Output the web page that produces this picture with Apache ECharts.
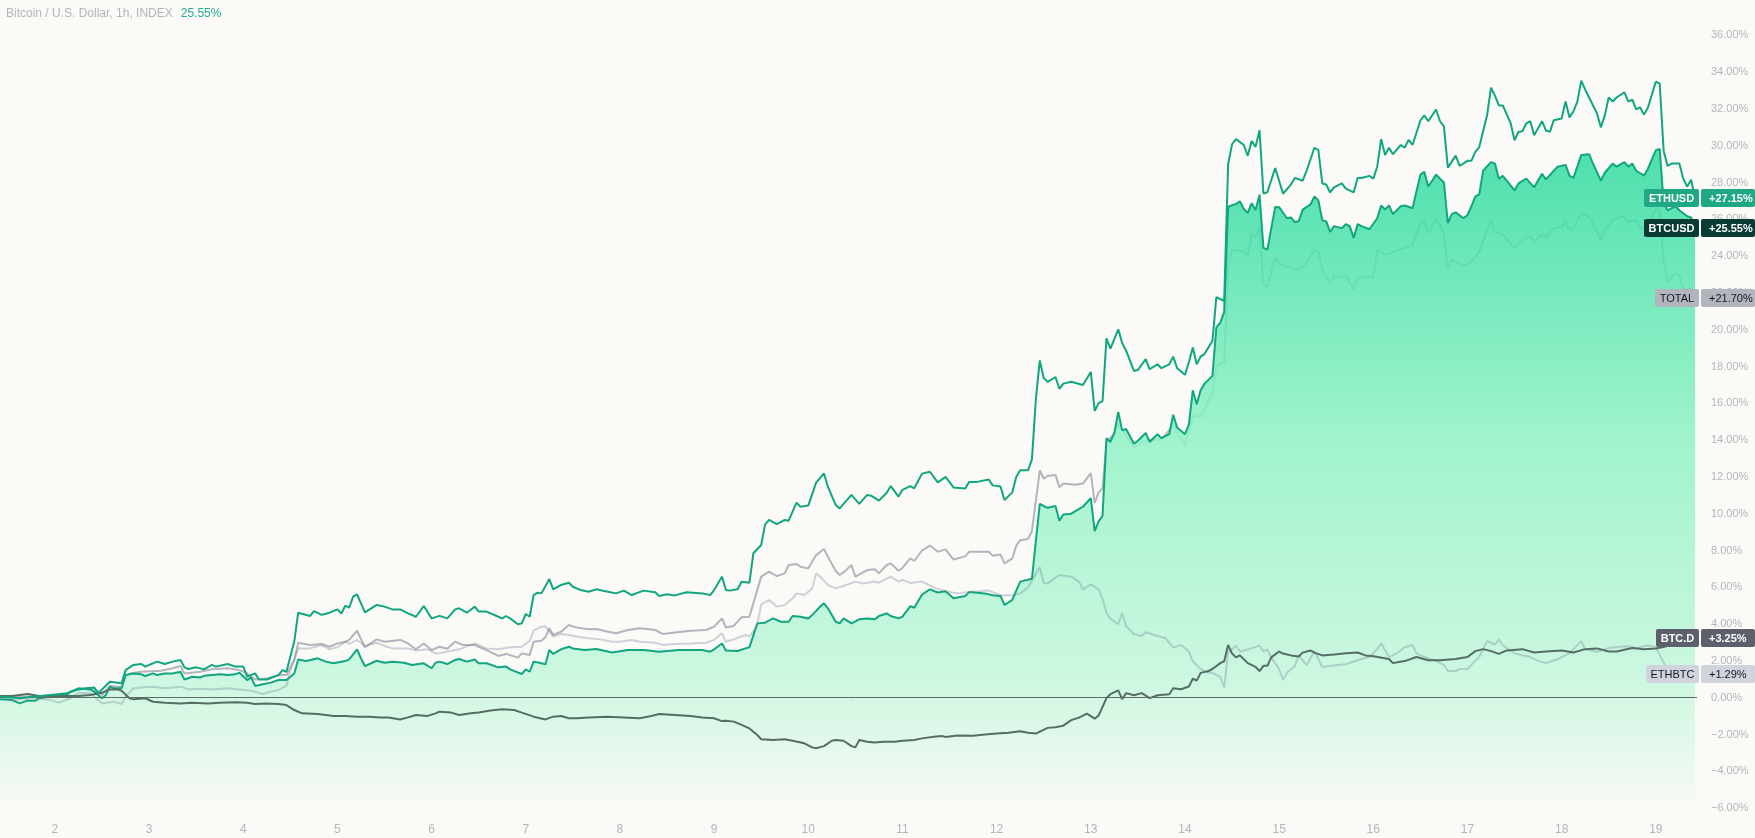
<!DOCTYPE html>
<html>
<head>
<meta charset="utf-8">
<script src="https://cdn.jsdelivr.net/npm/echarts@6/dist/echarts.min.js"></script>
<style>
html,body{margin:0;padding:0;background:#fbfaf7;}
#chart{width:1755px;height:838px;}
</style>
</head>
<body>
<div id="chart"></div>
<script>
// ---- data: [hour since start (day 1, 10:00), % change] ----
const START_DAY = 1, START_HOUR = 10, LAST_HOUR = 432;
const dayTicks = [2,3,4,5,6,7,8,9,10,11,12,13,14,15,16,17,18,19];
const pctTicks = [-6,-4,-2,0,2,4,6,8,10,12,14,16,18,20,22,24,26,28,30,32,34,36];
const titleText = 'Bitcoin / U.S. Dollar, 1h, INDEX';

const ethusd = [[0,0.06],[5,-0.03],[9,0.06],[13,0.15],[17,0.24],[20,0.45],[22,0.51],[24,0.56],[25,0.24],[28,0.87],[31,0.78],[32,1.50],[34,1.78],[36,1.83],[37,1.69],[40,1.96],[42,1.83],[44,1.96],[46,2.05],[47,1.65],[48,1.56],[50,1.65],[52,1.54],[54,1.78],[55,1.69],[58,1.83],[60,1.69],[62,1.69],[63,1.14],[65,1.32],[66,0.99],[68,0.99],[71,1.23],[72,1.50],[73,1.41],[75,3.05],[76,4.62],[79,4.44],[80,4.71],[82,4.50],[84,4.62],[86,4.80],[87,4.58],[88,5.00],[89,4.89],[90,5.49],[91,5.62],[92,5.13],[93,4.64],[96,5.04],[98,4.95],[100,4.80],[102,4.80],[104,4.58],[106,4.40],[108,4.98],[110,4.31],[112,4.45],[114,4.31],[116,4.80],[117,4.86],[119,4.62],[121,4.95],[122,4.68],[124,4.68],[127,4.40],[128,4.31],[129,4.44],[130,4.31],[132,3.99],[133,4.04],[134,4.55],[135,4.40],[136,5.58],[137,5.71],[138,5.67],[140,6.45],[141,5.89],[143,6.13],[145,6.25],[146,6.03],[148,5.85],[150,5.76],[152,5.89],[154,5.80],[157,5.67],[159,5.82],[161,5.58],[164,5.82],[167,5.73],[168,5.53],[170,5.62],[172,5.56],[175,5.73],[179,5.67],[181,5.58],[182,5.85],[184,6.58],[185,5.85],[186,5.82],[188,5.89],[189,6.30],[191,6.25],[192,7.85],[194,8.30],[195,9.42],[196,9.66],[198,9.44],[200,9.66],[201,9.62],[203,10.60],[204,10.38],[206,10.44],[208,11.69],[210,12.19],[211,11.47],[213,10.47],[214,10.29],[215,10.53],[217,11.02],[219,10.53],[221,11.02],[222,10.98],[224,10.71],[226,11.14],[227,11.50],[229,10.93],[230,11.30],[232,11.50],[233,11.38],[235,12.18],[237,12.28],[239,11.70],[241,12.00],[243,11.43],[246,11.37],[247,11.73],[249,11.73],[252,11.86],[253,11.54],[255,11.48],[256,10.74],[258,11.16],[259,12.00],[260,12.36],[262,12.36],[263,12.95],[264,16.22],[265,18.33],[266,17.38],[267,17.17],[269,17.43],[270,16.79],[271,17.07],[273,17.17],[276,17.00],[278,17.70],[279,15.59],[280,16.01],[281,16.12],[282,19.53],[283,18.97],[284,19.49],[285,20.02],[286,19.28],[287,18.86],[289,17.76],[290,17.81],[292,18.40],[293,17.85],[295,18.12],[296,17.91],[298,18.12],[299,18.54],[300,17.91],[302,17.55],[303,18.23],[304,19.03],[305,18.12],[306,18.54],[307,18.69],[309,19.39],[310,21.77],[312,21.56],[313,28.99],[314,30.08],[315,30.36],[317,30.04],[318,29.45],[319,30.25],[320,29.94],[321,30.84],[322,27.40],[323,27.47],[325,28.78],[326,28.10],[327,27.39],[329,27.89],[330,28.25],[332,28.10],[333,28.64],[335,29.89],[336,29.76],[337,27.95],[338,27.89],[339,27.46],[340,27.74],[342,27.95],[343,27.67],[345,27.46],[346,28.25],[347,28.25],[349,28.36],[350,28.21],[351,28.86],[352,30.36],[353,29.50],[354,29.89],[355,29.54],[357,30.04],[358,29.89],[359,30.32],[360,30.04],[362,31.37],[363,31.65],[364,31.33],[366,31.97],[367,31.33],[368,31.05],[369,28.81],[371,29.46],[372,28.90],[374,29.18],[375,29.18],[376,29.67],[377,29.93],[379,31.65],[380,33.15],[381,32.72],[382,32.19],[383,32.19],[385,31.22],[386,30.30],[387,30.75],[388,30.79],[389,31.22],[390,31.33],[391,30.57],[393,31.33],[394,30.83],[395,30.75],[396,31.39],[398,31.48],[399,32.40],[400,31.54],[401,31.86],[402,32.40],[403,33.54],[404,33.05],[405,32.62],[407,31.76],[408,31.00],[409,31.65],[410,32.62],[411,32.40],[412,32.62],[414,32.90],[415,32.40],[416,32.51],[417,31.97],[418,32.08],[419,31.69],[420,32.08],[422,33.48],[423,33.37],[424,29.72],[425,28.90],[426,29.03],[428,29.03],[429,28.21],[430,27.78],[431,28.15],[432,27.15]];

const btcusd = [[0,-0.09],[3,-0.12],[5,-0.31],[7,-0.16],[9,-0.16],[10,-0.03],[13,0.06],[15,0.15],[17,0.15],[18,0.33],[20,0.51],[23,0.45],[24,0.33],[26,-0.03],[27,0.15],[28,0.60],[29,0.51],[31,0.51],[32,1.23],[34,1.32],[36,1.27],[37,1.18],[39,1.32],[40,1.23],[42,1.32],[44,1.32],[46,1.41],[47,0.99],[49,1.14],[51,1.10],[52,1.19],[54,1.23],[56,1.27],[58,1.23],[60,1.27],[61,1.36],[63,0.96],[64,1.10],[65,0.64],[67,0.73],[69,0.82],[71,0.96],[73,0.96],[75,1.32],[76,2.08],[78,1.99],[81,2.14],[83,1.96],[85,1.87],[88,1.99],[89,2.08],[91,2.63],[92,2.14],[93,1.72],[96,2.01],[98,1.90],[100,1.96],[103,1.90],[105,1.78],[108,1.87],[110,1.60],[111,1.90],[112,1.96],[114,1.83],[116,2.05],[117,2.10],[119,1.96],[121,2.08],[122,1.87],[124,1.87],[127,1.65],[129,1.69],[130,1.54],[133,1.29],[134,1.54],[135,1.41],[136,1.96],[138,1.87],[139,1.81],[140,2.59],[141,2.38],[143,2.63],[145,2.77],[146,2.68],[149,2.59],[152,2.65],[156,2.46],[160,2.59],[164,2.59],[168,2.50],[173,2.59],[179,2.59],[181,2.50],[182,2.63],[184,2.95],[185,2.56],[188,2.54],[190,2.68],[191,2.74],[193,4.04],[195,4.08],[197,4.31],[199,4.13],[201,4.13],[202,4.44],[204,4.40],[206,4.31],[207,4.49],[209,4.95],[210,5.13],[211,4.86],[213,4.13],[214,4.04],[215,4.31],[217,4.04],[219,4.26],[221,4.31],[223,4.26],[224,4.44],[226,4.58],[227,4.44],[229,4.31],[230,4.41],[232,4.98],[233,4.89],[235,5.61],[237,5.89],[239,5.72],[241,5.78],[243,5.40],[246,5.53],[247,5.74],[251,5.67],[253,5.57],[255,5.53],[256,5.04],[258,5.32],[260,6.31],[263,6.46],[264,8.52],[265,10.53],[266,10.42],[267,10.32],[269,10.42],[270,9.62],[271,9.96],[273,10.00],[276,10.38],[278,10.84],[279,9.05],[280,9.58],[281,9.89],[282,14.11],[283,13.90],[284,14.39],[285,15.53],[286,14.53],[287,14.60],[289,13.80],[290,13.97],[292,14.39],[293,13.90],[295,14.32],[296,14.11],[298,14.32],[299,15.38],[300,14.68],[302,14.32],[303,14.85],[304,16.71],[305,15.95],[306,16.71],[307,17.07],[309,17.49],[310,20.13],[311,20.38],[312,20.97],[313,26.67],[314,26.77],[315,26.83],[316,26.98],[317,26.56],[318,26.35],[319,26.88],[320,26.50],[321,27.34],[322,24.45],[323,24.35],[325,26.67],[326,26.66],[328,26.06],[329,26.10],[330,25.85],[331,25.89],[332,26.53],[334,26.81],[335,27.24],[336,27.03],[337,25.95],[338,25.89],[339,25.31],[340,25.63],[342,25.52],[343,25.74],[344,25.63],[345,24.99],[346,25.74],[347,25.63],[349,25.46],[351,26.06],[352,26.75],[353,26.53],[354,26.75],[355,26.28],[357,26.71],[358,26.75],[360,26.60],[362,28.43],[363,28.58],[364,27.78],[365,28.10],[366,28.43],[367,28.21],[368,28.00],[369,25.80],[370,26.28],[371,26.38],[373,26.06],[374,26.23],[375,26.71],[376,27.24],[377,27.35],[378,28.64],[380,29.11],[381,29.03],[382,28.21],[383,28.36],[384,28.10],[386,27.57],[387,27.95],[389,28.21],[391,27.74],[393,28.47],[394,28.17],[396,28.64],[397,28.86],[399,28.96],[400,28.38],[401,28.25],[402,28.86],[403,29.50],[405,29.54],[406,29.03],[408,28.10],[409,28.53],[411,29.03],[412,28.86],[414,29.11],[415,28.86],[416,29.03],[417,28.64],[419,28.38],[420,28.75],[422,29.76],[423,29.82],[424,26.88],[425,26.49],[427,26.71],[428,26.49],[430,26.17],[431,26.10],[432,25.55]];

const total = [[0,0.02],[9,0.06],[17,0.20],[20,0.45],[24,0.51],[26,0.15],[28,0.64],[31,0.60],[33,1.32],[36,1.41],[41,1.47],[44,1.60],[46,1.72],[47,1.32],[51,1.41],[54,1.54],[58,1.60],[61,1.50],[63,1.32],[65,0.99],[68,1.05],[71,1.23],[73,1.23],[75,2.05],[76,2.99],[79,2.86],[82,2.92],[84,2.77],[86,2.95],[88,3.04],[89,3.14],[91,3.64],[93,2.74],[96,3.17],[98,3.04],[102,3.14],[104,2.95],[106,2.63],[108,2.95],[110,2.59],[112,2.77],[114,2.66],[116,3.05],[118,2.86],[121,2.86],[124,2.59],[127,2.27],[129,2.38],[132,2.18],[133,2.41],[135,2.32],[136,3.04],[138,3.10],[139,3.28],[140,3.77],[141,3.41],[143,3.59],[145,3.95],[147,3.81],[150,3.72],[152,3.73],[155,3.59],[157,3.50],[160,3.68],[163,3.77],[167,3.68],[169,3.46],[172,3.55],[176,3.64],[180,3.68],[182,3.86],[184,4.31],[185,3.82],[187,3.90],[189,4.37],[191,4.40],[193,5.85],[194,6.58],[196,6.85],[198,6.61],[200,6.76],[201,7.21],[203,7.27],[204,7.12],[206,7.03],[208,7.75],[210,8.08],[211,7.66],[213,6.89],[214,6.67],[215,6.81],[217,7.21],[218,6.58],[221,6.94],[223,6.98],[224,6.76],[226,7.21],[227,7.30],[229,6.90],[230,7.05],[232,7.57],[233,7.43],[235,8.00],[237,8.27],[239,7.93],[241,8.06],[243,7.51],[246,7.68],[247,7.93],[249,7.93],[252,7.93],[253,7.72],[255,7.78],[256,7.30],[258,7.57],[259,8.27],[260,8.56],[262,8.63],[263,9.05],[265,12.36],[266,11.90],[267,12.05],[269,12.11],[270,11.43],[271,11.64],[274,11.58],[276,11.64],[278,12.21],[279,10.59],[280,11.16],[281,11.37],[282,13.90],[284,14.35],[285,14.90],[289,13.60],[292,14.02],[296,14.02],[299,14.80],[302,13.70],[304,15.30],[306,15.28],[309,16.55],[310,18.03],[312,18.24],[313,23.50],[314,24.35],[317,24.24],[318,24.03],[319,25.19],[320,25.02],[321,25.61],[322,22.45],[323,22.34],[325,23.92],[326,23.59],[328,23.44],[330,23.27],[332,23.38],[333,23.70],[335,24.30],[336,24.24],[337,23.27],[339,22.52],[340,22.95],[342,22.84],[343,22.95],[345,22.19],[346,22.79],[349,22.88],[350,22.88],[351,24.34],[353,24.08],[354,24.13],[357,24.39],[359,24.51],[360,24.60],[362,25.85],[363,25.85],[364,25.25],[366,26.02],[367,25.67],[368,25.20],[369,23.37],[370,23.81],[373,23.48],[375,23.70],[377,24.24],[379,25.42],[380,25.95],[381,25.31],[383,25.20],[386,24.45],[388,24.88],[390,25.09],[391,24.73],[393,25.20],[394,24.99],[396,25.52],[398,25.59],[399,25.85],[400,25.42],[401,25.52],[403,26.32],[405,26.17],[408,24.88],[409,25.42],[411,25.95],[412,26.06],[414,26.17],[415,25.85],[417,25.95],[418,25.52],[419,25.42],[420,25.74],[422,26.53],[423,26.49],[424,23.70],[425,22.62],[427,23.05],[428,22.95],[429,22.19],[431,22.24],[432,21.70]];

const ethbtc = [[0,0.02],[4,-0.13],[9,-0.03],[13,-0.13],[15,-0.27],[18,-0.03],[20,0.27],[23,0.24],[25,-0.13],[26,-0.31],[29,-0.22],[31,-0.34],[32,0.06],[34,0.51],[36,0.56],[39,0.60],[42,0.51],[46,0.60],[48,0.45],[51,0.49],[54,0.45],[58,0.51],[61,0.45],[64,0.38],[67,0.20],[69,0.33],[71,0.42],[73,0.64],[74,1.50],[76,2.68],[79,2.68],[82,2.86],[84,2.63],[86,2.74],[88,3.04],[89,2.92],[91,3.14],[93,2.81],[96,2.99],[98,2.81],[100,2.68],[104,2.68],[106,2.56],[109,2.63],[111,2.41],[112,2.41],[115,2.55],[117,2.63],[121,2.95],[124,2.68],[127,2.63],[130,2.74],[133,2.77],[135,3.08],[136,3.64],[138,3.86],[139,3.88],[141,3.32],[143,3.46],[145,3.41],[148,3.28],[150,3.23],[153,3.17],[156,3.04],[158,3.04],[161,3.14],[163,3.04],[167,2.99],[169,2.86],[172,2.92],[176,2.95],[180,2.99],[182,3.14],[184,3.50],[185,3.04],[187,3.17],[190,3.41],[191,3.32],[193,3.95],[194,5.07],[196,5.31],[198,4.95],[200,5.04],[202,5.40],[203,5.67],[205,5.58],[207,5.94],[208,6.76],[209,6.58],[211,6.13],[213,5.94],[215,6.07],[218,6.31],[220,6.21],[223,6.31],[224,6.25],[227,6.58],[229,6.31],[230,6.41],[232,6.24],[235,6.31],[238,5.99],[241,5.78],[244,5.67],[247,5.74],[252,5.82],[255,5.57],[258,5.57],[260,5.67],[262,5.99],[264,6.73],[265,7.09],[266,6.24],[267,6.20],[269,6.52],[270,6.67],[273,6.58],[275,6.31],[276,5.88],[278,6.16],[280,5.88],[281,5.36],[282,4.62],[283,4.30],[285,3.99],[286,4.62],[287,3.88],[289,3.46],[291,3.35],[292,3.56],[295,3.35],[297,3.25],[299,2.72],[301,2.87],[303,2.51],[304,1.98],[306,1.56],[308,1.35],[309,1.35],[311,1.14],[312,0.55],[313,2.51],[314,2.62],[315,2.83],[316,2.51],[318,2.62],[321,2.83],[322,2.51],[323,2.62],[324,2.19],[326,1.56],[327,0.97],[328,1.35],[330,1.73],[331,2.30],[333,1.77],[335,2.53],[337,1.67],[341,1.78],[343,1.82],[347,2.10],[349,2.21],[351,2.64],[352,2.96],[354,2.21],[356,2.42],[358,2.74],[360,2.85],[361,2.42],[363,2.21],[366,2.00],[368,1.78],[369,1.45],[371,1.45],[372,1.56],[374,1.56],[376,2.00],[377,2.21],[379,3.07],[381,2.89],[382,3.17],[383,2.85],[386,2.42],[388,2.31],[390,2.21],[392,2.00],[394,1.88],[397,2.10],[400,2.42],[401,2.64],[403,3.07],[404,2.64],[407,2.50],[410,2.70],[412,2.75],[415,2.80],[417,2.70],[420,2.85],[422,2.75],[424,1.90],[425,1.60],[427,1.70],[428,1.55],[430,1.45],[432,1.29]];

const btcd = [[0,0.09],[3,0.09],[7,0.20],[10,0.09],[14,0.06],[17,0.09],[20,0.09],[23,0.15],[26,0.27],[28,0.45],[30,0.45],[31,0.38],[33,-0.03],[34,-0.09],[37,-0.03],[39,-0.22],[42,-0.27],[46,-0.31],[49,-0.27],[53,-0.31],[56,-0.27],[60,-0.25],[63,-0.27],[65,-0.34],[68,-0.31],[71,-0.34],[73,-0.40],[75,-0.67],[77,-0.85],[81,-0.89],[85,-0.99],[88,-0.99],[91,-1.03],[94,-1.03],[97,-1.07],[99,-1.07],[102,-1.18],[104,-1.07],[106,-0.94],[109,-0.99],[111,-0.85],[112,-0.76],[115,-0.81],[117,-0.94],[120,-0.85],[122,-0.81],[125,-0.70],[128,-0.63],[131,-0.67],[133,-0.81],[136,-1.03],[139,-1.18],[141,-1.03],[143,-0.99],[145,-1.12],[147,-1.12],[150,-1.07],[155,-1.03],[159,-1.07],[163,-1.12],[166,-0.99],[168,-0.89],[172,-0.94],[176,-0.99],[179,-1.07],[182,-1.12],[184,-1.27],[185,-1.25],[187,-1.30],[189,-1.48],[191,-1.67],[193,-2.03],[194,-2.26],[197,-2.30],[200,-2.26],[202,-2.34],[205,-2.48],[207,-2.70],[208,-2.75],[210,-2.63],[212,-2.34],[213,-2.30],[215,-2.34],[217,-2.63],[218,-2.70],[219,-2.30],[221,-2.39],[223,-2.44],[225,-2.39],[228,-2.39],[230,-2.34],[233,-2.30],[235,-2.21],[238,-2.12],[240,-2.08],[241,-2.13],[244,-2.05],[248,-2.07],[251,-2.00],[254,-1.95],[257,-1.90],[260,-1.82],[262,-1.90],[264,-1.95],[267,-1.64],[269,-1.60],[271,-1.52],[273,-1.22],[275,-1.08],[277,-0.87],[279,-1.14],[280,-0.97],[282,-0.02],[283,0.19],[285,0.40],[286,-0.08],[287,0.25],[289,0.13],[291,0.25],[293,-0.02],[295,0.13],[298,0.19],[299,0.51],[301,0.46],[303,0.61],[304,1.03],[305,0.93],[306,1.35],[308,1.45],[309,1.56],[311,1.88],[312,1.98],[313,2.87],[314,2.40],[315,2.19],[316,2.30],[318,1.88],[320,1.67],[321,1.45],[322,1.73],[323,1.73],[324,2.19],[326,2.51],[327,2.40],[329,2.30],[331,2.24],[332,2.45],[334,2.57],[335,2.45],[337,2.30],[340,2.35],[343,2.41],[346,2.46],[348,2.30],[350,2.25],[354,2.10],[355,1.88],[358,1.99],[361,2.21],[364,2.04],[367,2.04],[371,2.10],[374,2.21],[376,2.53],[378,2.64],[380,2.53],[382,2.38],[384,2.57],[388,2.64],[391,2.46],[394,2.51],[398,2.57],[401,2.46],[404,2.64],[407,2.68],[410,2.51],[412,2.51],[416,2.70],[419,2.64],[422,2.68],[424,2.75],[428,3.00],[432,3.25]];

// ---- helpers ----
const toDay = h => START_DAY + (START_HOUR + h) / 24;
const toPts = arr => arr.map(p => [toDay(p[0]), p[1]]);
const FONT_FAMILY = '"Liberation Sans", Arial, sans-serif';
const GREEN_LINE = '#10a67f';

const chart = echarts.init(document.getElementById('chart'), null, {renderer: 'canvas'});

const lineBase = {type: 'line', symbol: 'none', showSymbol: false, smooth: false, silent: true, animation: false, emphasis: {disabled: true}};

const option = {
  backgroundColor: '#fbfaf7',
  animation: false,
  grid: {left: 0, right: 58, top: 0, bottom: 23},
  xAxis: {
    type: 'value', min: toDay(0), max: toDay(LAST_HOUR + 0.5),
    axisLine: {show: false}, axisTick: {show: false}, splitLine: {show: false},
    axisLabel: {customValues: dayTicks, formatter: v => String(Math.round(v)), color: '#b2b5be', fontSize: 12, fontFamily: FONT_FAMILY, margin: 9}
  },
  yAxis: {
    type: 'value', position: 'right', min: -6.375, max: 37.92,
    axisLine: {show: false}, axisTick: {show: false}, splitLine: {show: false},
    axisLabel: {customValues: pctTicks, formatter: v => (v < 0 ? '\u2212' : '') + Math.abs(v).toFixed(2) + '%', color: '#b2b5be', fontSize: 11, fontFamily: FONT_FAMILY, margin: 14, align: 'left'}
  },
  series: [
    Object.assign({}, lineBase, {name: 'TOTAL', z: 1, data: toPts(total), lineStyle: {color: '#b2b5be', width: 2}}),
    Object.assign({}, lineBase, {name: 'BTCUSD', z: 2, data: toPts(btcusd), lineStyle: {color: GREEN_LINE, width: 2},
      areaStyle: {origin: 'start', opacity: 0.85, color: new echarts.graphic.LinearGradient(0, 0, 0, 1, [
        {offset: 0, color: 'rgb(47,219,159)'},
        {offset: 0.44, color: 'rgb(144,242,198)'},
        {offset: 0.8, color: 'rgb(197,247,221)'},
        {offset: 1, color: 'rgb(251,250,246)'}
      ])}}),
    Object.assign({}, lineBase, {name: 'ETHBTC', z: 3, data: toPts(ethbtc), lineStyle: {color: 'rgba(110,125,150,0.32)', width: 2}}),
    Object.assign({}, lineBase, {name: 'BTC.D', z: 4, data: toPts(btcd), lineStyle: {color: '#566d66', width: 2},
      markLine: {silent: true, symbol: 'none', label: {show: false}, animation: false,
        lineStyle: {color: '#5b6b66', width: 1, type: 'solid'}, emphasis: {disabled: true}, data: [{yAxis: 0}]}}),
    Object.assign({}, lineBase, {name: 'ETHUSD', z: 5, data: toPts(ethusd), lineStyle: {color: GREEN_LINE, width: 2}})
  ]
};
chart.setOption(option);

// ---- right-hand series labels & title ----
const labelSpecs = [
  {name: 'ETHUSD', data: ethusd, bg: '#1ea883', fg: '#ffffff', bold: true},
  {name: 'BTCUSD', data: btcusd, bg: '#073b33', fg: '#ffffff', bold: true},
  {name: 'TOTAL', data: total, bg: '#b2b5be', fg: '#131722', bold: false},
  {name: 'BTC.D', data: btcd, bg: '#5d606b', fg: '#ffffff', bold: true},
  {name: 'ETHBTC', data: ethbtc, bg: '#d1d4dc', fg: '#131722', bold: false}
];
const ctx = document.createElement('canvas').getContext('2d');
const tw = (t, f) => { ctx.font = f; return ctx.measureText(t).width; };
const W = chart.getWidth();
const plotRight = chart.convertToPixel({xAxisIndex: 0}, toDay(LAST_HOUR + 0.5));
const els = [];
const txt = (x, y, text, fill, font, align) => ({type: 'text', z: 101, x: x, y: y, silent: true,
  style: {text: text, fill: fill, font: font, align: align, textAlign: align, verticalAlign: 'middle', textVerticalAlign: 'middle'}});
labelSpecs.forEach(l => {
  const font = (l.bold ? 'bold ' : '') + '11px ' + FONT_FAMILY;
  const last = l.data[l.data.length - 1][1];
  const y = Math.round(chart.convertToPixel({yAxisIndex: 0}, last));
  const h = 18;
  const nw = Math.ceil(tw(l.name, font)) + 9;
  const nx = plotRight + 2 - nw;
  els.push({type: 'rect', z: 100, silent: true, shape: {x: nx, y: y - h / 2, width: nw, height: h, r: 2}, style: {fill: l.bg}});
  els.push(txt(nx + nw / 2, y + 0.5, l.name, l.fg, font, 'center'));
  const vx = plotRight + 4;
  els.push({type: 'rect', z: 100, silent: true, shape: {x: vx, y: y - h / 2, width: W - vx, height: h, r: 2}, style: {fill: l.bg}});
  els.push(txt(vx + 8, y + 0.5, (last >= 0 ? '+' : '\u2212') + Math.abs(last).toFixed(2) + '%', l.fg, font, 'left'));
});
const TFONT = '12px ' + FONT_FAMILY;
const titleValue = btcusd[btcusd.length - 1][1].toFixed(2) + '%';
els.push(txt(6, 14, titleText, '#b2b5be', TFONT, 'left'));
els.push(txt(6 + tw(titleText, TFONT) + 8, 14, titleValue, '#22ab94', TFONT, 'left'));
chart.setOption({graphic: {elements: els}});
</script>
</body>
</html>
